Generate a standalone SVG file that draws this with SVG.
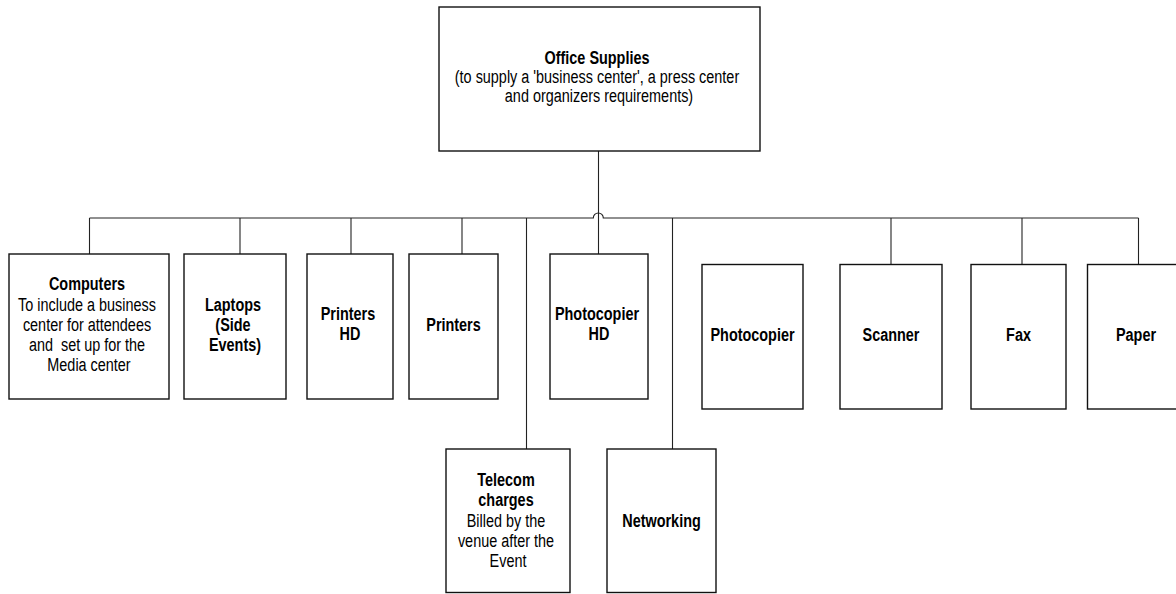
<svg xmlns="http://www.w3.org/2000/svg" width="1176" height="594" viewBox="0 0 1176 594">
  <style>
    .box { fill: #fff; stroke: #111; stroke-width: 1.4; }
    .wire { fill: none; stroke: #222; stroke-width: 1.1; }
    text { font-family: "Liberation Sans", Arial, sans-serif; font-size: 17.6px; fill: #000; text-anchor: middle; }
    .b { font-weight: bold; }
  </style>
  <rect width="1176" height="594" fill="#fff"/>

  <!-- connectors: one bus with a line hop where the trunk crosses it -->
  <g id="connectors">
    <path class="wire" d="M89.5 218 H593.3 A5 5 0 0 1 603.3 218 H1138.5"/>
    <path class="wire" d="M598.5 151 V254"/>
    <path class="wire" d="M89.5 218 V254"/>
    <path class="wire" d="M240 218 V254"/>
    <path class="wire" d="M351 218 V254"/>
    <path class="wire" d="M462 218 V254"/>
    <path class="wire" d="M526.5 218 V449"/>
    <path class="wire" d="M672.5 218 V449"/>
    <path class="wire" d="M891 218 V264.5"/>
    <path class="wire" d="M1022 218 V264.5"/>
    <path class="wire" d="M1138.5 218 V264.5"/>
  </g>

  <g id="office-supplies">
    <rect class="box" x="439" y="7" width="321" height="144"/>
    <text transform="translate(599 0) scale(0.82 1)">
      <tspan class="b" x="0" y="64.5">Office Supplies</tspan>
      <tspan x="0" y="83.5">(to supply a 'business center', a press center</tspan>
      <tspan x="0" y="102.5">and organizers requirements)</tspan>
    </text>
  </g>

  <g id="computers">
    <rect class="box" x="9" y="254" width="160" height="145"/>
    <text transform="translate(89 0) scale(0.82 1)">
      <tspan class="b" x="0" y="290.5">Computers</tspan>
      <tspan x="0" y="311">To include a business</tspan>
      <tspan x="0" y="331">center for attendees</tspan>
      <tspan x="0" y="351">and&#160; set up for the</tspan>
      <tspan x="0" y="371.5">Media center</tspan>
    </text>
  </g>

  <g id="laptops">
    <rect class="box" x="184" y="254" width="102" height="145"/>
    <text class="b" transform="translate(235 0) scale(0.82 1)">
      <tspan x="0" y="311">Laptops</tspan>
      <tspan x="0" y="331">(Side</tspan>
      <tspan x="0" y="351">Events)</tspan>
    </text>
  </g>

  <g id="printers-hd">
    <rect class="box" x="307" y="254" width="86" height="145"/>
    <text class="b" transform="translate(350 0) scale(0.82 1)">
      <tspan x="0" y="320.5">Printers</tspan>
      <tspan x="0" y="340.5">HD</tspan>
    </text>
  </g>

  <g id="printers">
    <rect class="box" x="409" y="254" width="89" height="145"/>
    <text class="b" transform="translate(453.5 0) scale(0.82 1)">
      <tspan x="0" y="331">Printers</tspan>
    </text>
  </g>

  <g id="photocopier-hd">
    <rect class="box" x="550" y="254" width="98" height="145"/>
    <text class="b" transform="translate(599 0) scale(0.82 1)">
      <tspan x="0" y="320.5">Photocopier</tspan>
      <tspan x="0" y="340.5">HD</tspan>
    </text>
  </g>

  <g id="telecom">
    <rect class="box" x="446" y="449" width="124" height="143.5"/>
    <text transform="translate(508 0) scale(0.82 1)">
      <tspan class="b" x="0" y="486">Telecom</tspan>
      <tspan class="b" x="0" y="506">charges</tspan>
      <tspan x="0" y="527.5">Billed by the</tspan>
      <tspan x="0" y="547.5">venue after the</tspan>
      <tspan x="0" y="567.5">Event</tspan>
    </text>
  </g>

  <g id="networking">
    <rect class="box" x="607" y="449" width="109" height="143.5"/>
    <text class="b" transform="translate(661.5 0) scale(0.82 1)">
      <tspan x="0" y="527.5">Networking</tspan>
    </text>
  </g>

  <g id="photocopier">
    <rect class="box" x="702" y="264.5" width="101" height="144.5"/>
    <text class="b" transform="translate(752.5 0) scale(0.82 1)">
      <tspan x="0" y="341.5">Photocopier</tspan>
    </text>
  </g>

  <g id="scanner">
    <rect class="box" x="840" y="264.5" width="102" height="144.5"/>
    <text class="b" transform="translate(891 0) scale(0.82 1)">
      <tspan x="0" y="341.5">Scanner</tspan>
    </text>
  </g>

  <g id="fax">
    <rect class="box" x="971" y="264.5" width="95" height="144.5"/>
    <text class="b" transform="translate(1018.5 0) scale(0.82 1)">
      <tspan x="0" y="341.5">Fax</tspan>
    </text>
  </g>

  <g id="paper">
    <rect class="box" x="1087.5" y="264.5" width="100" height="144.5"/>
    <text class="b" transform="translate(1136 0) scale(0.82 1)">
      <tspan x="0" y="341.5">Paper</tspan>
    </text>
  </g>
</svg>
